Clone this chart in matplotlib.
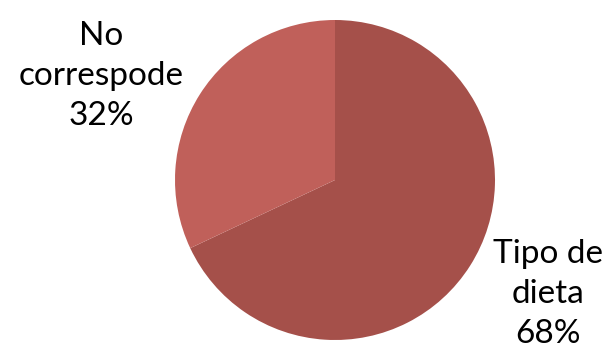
import matplotlib.pyplot as plt

labels = ["Tipo de\ndieta", "No\ncorrespode"]
shares = [68, 32]
colors = ["#A5504A", "#C0605A"]

fig = plt.figure(figsize=(6.1, 3.52), dpi=100)
ax = fig.add_axes([175 / 610, 12 / 352, 320 / 610, 320 / 352])

ax.pie(shares, colors=colors, startangle=90, counterclock=False,
       radius=1.0, wedgeprops={"linewidth": 0})
ax.set_xlim(-1, 1)
ax.set_ylim(-1, 1)
ax.set_aspect("equal")
ax.axis("off")

# label spots in data units (pie radius = 1)
label_pos = [(1.33, -0.71), (-1.46, 0.65)]
for lab, val, (x, y) in zip(labels, shares, label_pos):
    ax.text(x, y, f"{lab}\n{val}%", ha="center", va="center",
            fontsize=24, family="Lato", linespacing=1.42, clip_on=False)

fig.savefig("out.png", dpi=100)
